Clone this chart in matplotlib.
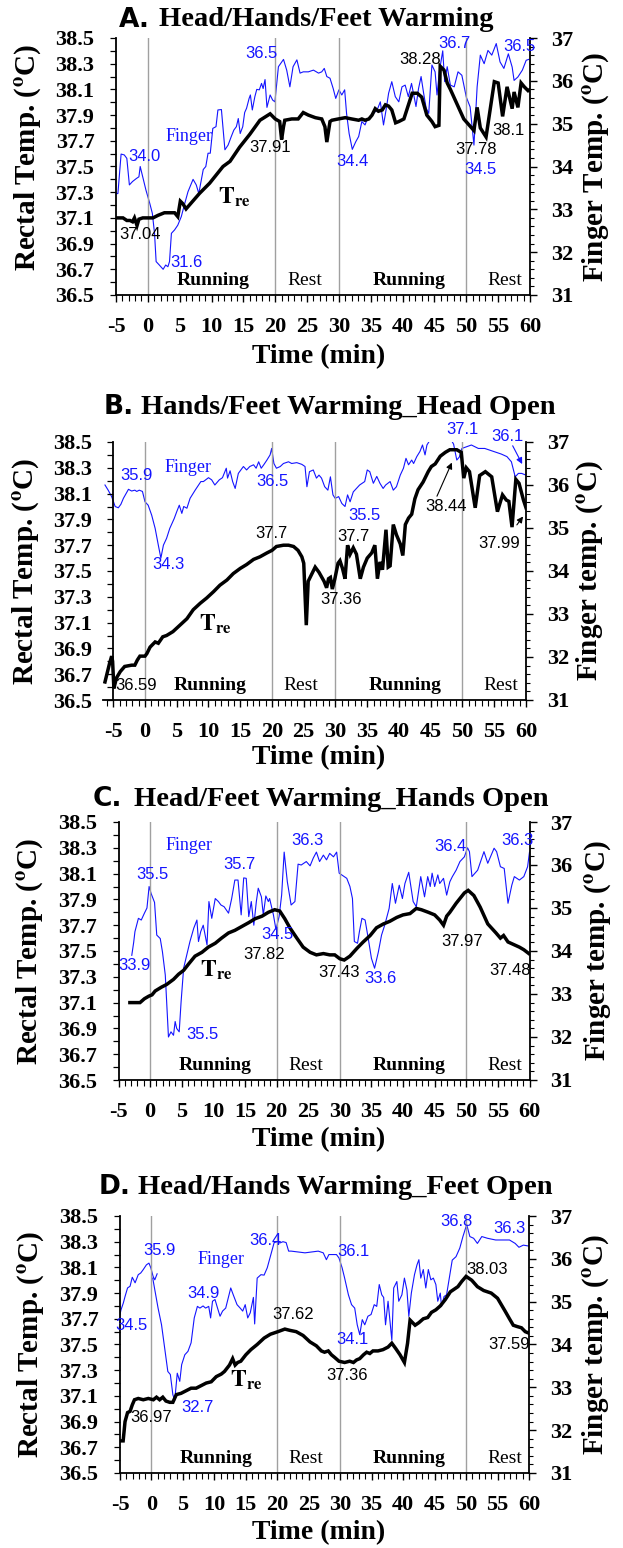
import numpy as np
import matplotlib
matplotlib.use('Agg')
import matplotlib.pyplot as plt
from matplotlib.ticker import MultipleLocator, FixedLocator, FormatStrFormatter

plt.rcParams['mathtext.fontset'] = 'stix'
plt.rcParams['axes.unicode_minus'] = False

# ---------------- panel A: head/hands/feet warming ----------------
A_tre_t = [-5.0, -3.9, -3.3, -2.8, -2.4, -2.1, -1.7, -1.4, -0.8, 0.0, 0.8, 1.6, 2.1, 2.6, 3.4, 4.2,
           4.7, 5.1, 5.5, 6.0, 8.1, 9.7, 11.8, 12.9, 14.4, 16.0, 17.6, 19.2, 20.0, 20.7, 21.0, 21.3,
           21.5, 22.6, 23.6, 24.4, 25.2, 26.3, 27.3, 27.8, 28.1, 28.6, 28.9, 29.9, 31.0, 32.0, 33.1,
           33.6, 34.1, 34.7, 35.2, 35.7, 36.2, 36.8, 37.3, 37.8, 38.3, 38.9, 39.4, 40.2, 41.5, 42.3,
           43.0, 43.8, 44.6, 45.1, 45.7, 45.9, 46.5, 47.0, 47.5, 49.6, 51.2, 51.7, 52.2, 53.1, 54.4,
           55.0, 55.7, 56.4, 57.2, 57.5, 58.1, 58.6, 59.1, 59.7, 60.0]
A_tre = [37.10, 37.10, 37.08, 37.08, 37.07, 37.10, 37.04, 37.09, 37.10, 37.10, 37.10, 37.12, 37.13,
         37.14, 37.14, 37.14, 37.11, 37.23, 37.21, 37.17, 37.29, 37.37, 37.50, 37.54, 37.65, 37.75,
         37.86, 37.91, 37.87, 37.85, 37.71, 37.81, 37.86, 37.87, 37.87, 37.92, 37.90, 37.88, 37.87,
         37.81, 37.69, 37.85, 37.86, 37.87, 37.88, 37.87, 37.86, 37.87, 37.86, 37.87, 37.90, 37.95,
         37.93, 37.94, 37.98, 37.97, 37.94, 37.84, 37.85, 37.87, 38.07, 38.07, 38.04, 37.90, 37.85,
         37.81, 37.82, 38.28, 38.25, 38.15, 38.10, 37.87, 37.78, 37.96, 37.80, 37.73, 38.16, 38.15,
         37.89, 38.12, 37.95, 38.08, 37.96, 38.15, 38.12, 38.09, 38.10]
A_fin_t = [-5.1, -4.7, -4.2, -3.7, -3.3, -2.9, -2.4, -1.8, -1.4, -1.2, -0.8, -0.3, 0.3, 0.7, 1.05,
           1.3, 1.8, 2.4, 2.8, 3.15, 3.4, 3.7, 4.2, 4.7, 5.25, 5.8, 6.3, 7.1, 7.6, 8.0, 8.7, 9.1, 9.45,
           9.8, 10.2, 10.7, 11.0, 11.55, 12.1, 12.6, 13.1, 13.5, 13.9, 14.2, 14.5, 14.9, 15.2, 15.5,
           15.9, 16.1, 16.4, 16.8, 17.1, 17.5, 17.85, 18.1, 18.4, 18.7, 19.2, 19.6, 19.95, 20.5, 21.3,
           21.8, 22.3, 22.8, 23.4, 23.9, 24.4, 25.2, 26.0, 26.8, 27.3, 27.7, 28.1, 28.6, 29.1, 29.5,
           30.0, 30.45, 30.9, 31.2, 31.6, 32.1, 32.65, 33.1, 33.6, 34.1, 34.4, 34.9, 35.4, 36.0, 36.5,
           37.0, 37.4, 37.8, 38.3, 38.85, 39.4, 39.9, 40.4, 40.9, 41.4, 41.7, 42.1, 42.5, 42.9, 43.3,
           43.7, 44.1, 44.6, 45.1, 45.4, 45.8, 46.3, 46.6, 47.0, 47.5, 48.1, 48.7, 49.3, 50.0, 50.6,
           51.2, 51.7, 52.2, 52.8, 53.4, 54.0, 54.7, 55.3, 55.9, 56.6, 57.2, 57.5, 58.1, 58.8, 59.4,
           59.8]
A_fin = [33.36, 33.37, 34.29, 34.27, 34.19, 33.57, 33.65, 33.72, 33.76, 34.0, 33.76, 33.45, 33.14,
         32.91, 32.44, 31.78, 31.70, 31.60, 31.70, 31.66, 31.78, 32.44, 32.52, 32.63, 32.83, 33.14,
         33.41, 33.70, 33.57, 33.37, 33.93, 34.00, 34.31, 34.31, 34.89, 34.93, 35.32, 35.33, 34.39,
         34.50, 34.70, 34.85, 34.93, 35.12, 34.77, 34.93, 35.26, 35.36, 35.59, 35.67, 35.32, 35.63,
         35.80, 35.79, 35.94, 35.82, 36.03, 35.38, 35.67, 35.55, 35.51, 36.33, 36.5, 36.25, 35.86,
         36.33, 36.49, 36.18, 36.21, 36.21, 36.25, 36.18, 36.21, 36.29, 36.10, 36.06, 35.82, 35.59,
         35.79, 35.67, 35.79, 35.24, 34.77, 34.4, 34.58, 34.70, 35.05, 34.97, 35.09, 35.12, 35.24,
         35.32, 35.51, 34.97, 35.32, 35.71, 35.98, 35.63, 35.51, 35.86, 35.90, 35.63, 35.94, 35.71,
         35.40, 35.82, 36.10, 35.71, 35.36, 35.24, 36.37, 36.21, 35.67, 36.25, 36.7, 35.98, 36.33,
         35.90, 35.86, 36.21, 36.13, 35.62, 35.39, 34.5, 35.86, 36.60, 36.40, 36.71, 36.60, 36.87,
         36.44, 36.29, 36.63, 36.32, 36.01, 36.09, 36.25, 36.48, 36.5]

# ---------------- panel B: hands/feet warming, head open ----------------
B_tre_t = [-6.3, -5.9, -5.6, -5.25, -5.1, -4.9, -4.5, -3.9, -3.2, -2.1, -1.6, -1.2, -0.8, 0.0, 0.3,
           0.8, 1.6, 2.1, 2.8, 3.4, 4.4, 5.5, 6.6, 7.6, 8.7, 9.7, 10.8, 11.8, 12.9, 13.9, 15.0, 16.0,
           17.1, 18.1, 19.2, 20.0, 20.7, 21.8, 22.6, 23.4, 24.1, 24.7, 25.0, 25.4, 25.7, 26.0, 26.8,
           27.4, 28.2, 28.6, 28.9, 29.2, 29.5, 29.9, 30.4, 30.7, 31.1, 31.5, 31.9, 32.3, 32.8, 33.3,
           33.9, 34.4, 35.0, 35.7, 36.2, 36.6, 37.0, 37.4, 37.95, 38.3, 38.6, 39.1, 39.6, 40.2, 40.6,
           41.0, 41.5, 42.0, 42.5, 43.0, 43.8, 44.6, 45.1, 45.7, 46.5, 47.3, 48.0, 49.1, 49.8, 50.2,
           50.6, 51.1, 52.0, 52.7, 53.6, 54.6, 55.5, 56.3, 56.9, 57.3, 57.8, 58.4, 58.9, 59.6, 60.0]
B_tre = [36.64, 36.72, 36.78, 36.84, 36.80, 36.59, 36.67, 36.72, 36.76, 36.77, 36.77, 36.81, 36.84,
         36.84, 36.86, 36.91, 36.95, 36.94, 36.99, 37.00, 37.03, 37.08, 37.13, 37.20, 37.25, 37.29,
         37.34, 37.39, 37.43, 37.48, 37.52, 37.55, 37.59, 37.61, 37.64, 37.66, 37.69, 37.70, 37.70,
         37.69, 37.66, 37.61, 37.56, 37.08, 37.42, 37.45, 37.53, 37.49, 37.42, 37.37, 37.44, 37.45,
         37.36, 37.44, 37.56, 37.58, 37.52, 37.44, 37.70, 37.63, 37.68, 37.63, 37.44, 37.53, 37.60,
         37.64, 37.70, 37.44, 37.57, 37.51, 37.82, 37.53, 37.54, 37.86, 37.78, 37.71, 37.62, 37.86,
         37.91, 37.94, 38.06, 38.13, 38.19, 38.27, 38.31, 38.33, 38.39, 38.42, 38.44, 38.44, 38.42,
         38.22, 38.30, 38.27, 37.99, 38.24, 38.27, 38.23, 37.96, 38.09, 38.05, 38.04, 37.84, 38.21,
         38.18, 38.05, 37.99]
B_fin_t = [-6.3, -5.8, -5.25, -4.7, -4.2, -3.8, -3.4, -2.6, -2.1, -1.6, -1.3, -0.9, -0.4, 0.0, 0.5,
           1.05, 1.6, 2.1, 2.5, 2.9, 3.4, 3.9, 4.6, 5.0, 5.4, 5.8, 6.1, 6.6, 7.1, 7.9, 8.8, 9.2, 10.0,
           10.5, 11.0, 11.7, 12.2, 12.8, 13.0, 13.4, 13.8, 14.2, 14.7, 15.5, 16.0, 16.5, 17.1, 17.5,
           17.9, 18.3, 18.7, 19.2, 19.7, 19.95, 20.3, 20.7, 21.3, 21.8, 22.6, 23.1, 23.9, 24.7, 25.2,
           25.5, 25.9, 26.5, 27.0, 27.4, 27.8, 28.3, 28.8, 29.2, 29.6, 29.95, 30.5, 31.0, 31.5, 31.9,
           32.3, 32.8, 33.3, 33.8, 34.6, 35.0, 35.4, 35.96, 36.5, 37.0, 37.5, 37.9, 38.6, 39.1, 39.6,
           40.2, 40.7, 41.1, 41.5, 42.0, 42.3, 42.8, 43.3, 43.7, 44.1, 44.4, 44.9, 45.7, 46.5, 47.3,
           48.0, 48.6, 49.1, 49.5, 49.9, 51.4, 52.5, 53.5, 54.9, 56.1, 57.0, 57.7, 58.3, 58.8, 59.3,
           60.0]
B_fin = [36.0, 35.88, 35.73, 35.50, 35.47, 35.55, 35.69, 35.9, 35.86, 35.88, 35.85, 35.88, 35.85,
         35.61, 35.53, 35.30, 34.99, 34.60, 34.3, 34.60, 34.76, 34.99, 35.22, 35.38, 35.53, 35.34,
         35.50, 35.46, 35.69, 35.88, 36.08, 36.08, 36.17, 36.12, 36.00, 36.12, 36.17, 36.39, 36.16,
         36.33, 36.08, 35.92, 36.27, 36.43, 36.35, 36.43, 36.47, 36.39, 36.54, 36.39, 36.47, 36.58,
         36.70, 36.85, 36.50, 36.39, 36.43, 36.50, 36.54, 36.50, 36.52, 36.48, 36.43, 35.96, 36.31,
         36.35, 36.16, 36.23, 36.16, 35.96, 35.88, 36.19, 35.77, 35.69, 35.73, 35.57, 35.5, 35.77,
         35.61, 35.84, 35.92, 36.00, 36.08, 36.35, 36.31, 36.04, 36.20, 36.04, 35.92, 36.00, 36.08,
         35.88, 35.96, 36.23, 36.39, 36.62, 36.47, 36.58, 36.50, 36.66, 36.78, 36.93, 36.70, 36.93,
         37.05, 37.1, 37.08, 37.08, 37.1, 36.95, 36.58, 36.65, 36.85, 36.93, 36.85, 36.85, 36.78,
         36.72, 36.66, 36.54, 36.19, 36.27, 36.27, 36.23]

# ---------------- panel C: head/feet warming, hands open ----------------
C_tre_t = [-3.2, -1.6, -0.9, -0.2, 0.3, 0.8, 1.8, 2.6, 3.7, 4.5, 5.3, 6.1, 7.1, 8.2, 9.2, 10.3, 11.3,
           12.4, 13.4, 14.5, 15.6, 16.6, 17.7, 18.7, 19.7, 20.5, 21.3, 22.1, 23.2, 24.2, 25.3, 26.3,
           27.4, 28.4, 29.2, 30.0, 30.7, 31.6, 32.7, 33.7, 34.8, 35.8, 36.9, 37.9, 39.0, 40.0, 41.1,
           42.1, 42.9, 44.0, 45.0, 45.8, 46.4, 46.9, 47.4, 48.4, 49.7, 50.3, 51.2, 52.2, 53.4, 54.7,
           55.4, 55.9, 56.6, 57.5, 58.4, 59.1, 59.9]
C_tre = [37.10, 37.10, 37.13, 37.15, 37.16, 37.19, 37.22, 37.24, 37.28, 37.32, 37.35, 37.40, 37.46,
         37.49, 37.53, 37.56, 37.60, 37.64, 37.66, 37.69, 37.72, 37.75, 37.77, 37.80, 37.82, 37.81,
         37.75, 37.68, 37.60, 37.53, 37.49, 37.47, 37.48, 37.47, 37.47, 37.44, 37.43, 37.46, 37.52,
         37.57, 37.62, 37.68, 37.71, 37.73, 37.76, 37.78, 37.79, 37.83, 37.82, 37.80, 37.78, 37.74,
         37.70, 37.77, 37.80, 37.87, 37.95, 37.97, 37.93, 37.84, 37.71, 37.64, 37.60, 37.62, 37.57,
         37.55, 37.53, 37.51, 37.48]
C_fin_t = [-2.9, -2.6, -2.4, -1.85, -1.4, -0.9, -0.5, -0.16, 0.15, 0.7, 1.05, 1.6, 1.95, 2.4, 2.9,
           3.3, 3.7, 3.96, 4.2, 4.6, 4.9, 5.3, 5.8, 6.3, 6.9, 7.4, 7.65, 8.0, 8.4, 9.0, 9.3, 9.75, 10.3,
           10.8, 11.2, 11.7, 12.4, 12.9, 13.4, 13.9, 14.4, 14.8, 15.2, 15.6, 16.0, 16.4, 16.8, 17.1,
           17.6, 17.9, 18.3, 18.7, 18.9, 19.5, 19.9, 20.4, 20.8, 21.2, 21.7, 22.3, 22.9, 23.4, 23.9,
           24.7, 25.3, 25.8, 26.3, 26.8, 27.4, 27.9, 28.4, 29.0, 29.5, 29.9, 30.3, 31.1, 31.6, 32.0,
           32.3, 32.8, 33.1, 33.5, 34.0, 34.5, 35.0, 35.5, 36.1, 36.6, 37.1, 37.8, 38.3, 38.8, 39.4,
           39.9, 40.3, 40.9, 41.6, 42.1, 42.8, 43.4, 43.9, 44.3, 44.6, 45.0, 45.5, 45.8, 46.4, 46.9,
           47.4, 47.8, 48.4, 49.0, 49.7, 50.2, 50.5, 50.9, 51.8, 52.8, 53.4, 54.4, 54.8, 55.4, 56.0,
           56.6, 57.2, 57.6, 58.4, 59.1, 59.7, 60.0]
C_fin = [33.9, 34.20, 34.45, 34.76, 34.72, 34.88, 35.00, 35.5, 35.34, 35.13, 34.37, 34.29, 33.98,
         33.44, 32.00, 32.12, 32.04, 32.36, 32.20, 32.12, 32.82, 33.60, 33.91, 34.22, 34.53, 34.72,
         34.22, 34.45, 34.60, 34.14, 35.15, 34.76, 35.22, 35.15, 35.07, 35.03, 34.88, 35.22, 35.65,
         35.65, 34.84, 35.7, 35.69, 34.80, 35.15, 34.60, 35.15, 35.46, 35.26, 34.84, 35.28, 35.15,
         35.22, 34.84, 34.5, 34.80, 35.30, 36.3, 35.61, 35.07, 35.15, 36.02, 36.00, 36.08, 35.98,
         36.16, 36.3, 36.08, 36.23, 36.12, 36.27, 36.19, 36.3, 35.81, 35.77, 35.69, 35.50, 35.22,
         34.22, 34.18, 34.45, 34.76, 34.72, 34.29, 33.83, 33.6, 33.98, 34.37, 34.60, 34.99, 35.57,
         35.11, 35.53, 35.22, 35.57, 35.83, 35.15, 35.03, 35.73, 35.26, 35.73, 35.50, 35.81, 35.50,
         35.77, 35.57, 35.69, 35.30, 35.61, 35.73, 35.88, 36.08, 36.19, 36.4, 36.31, 35.73, 35.88,
         36.31, 36.04, 36.39, 36.31, 35.96, 35.92, 35.11, 35.53, 35.73, 35.65, 35.73, 35.96, 36.3]

# ---------------- panel D: head/hands warming, feet open ----------------
D_tre_t = [-5.0, -4.5, -4.2, -3.8, -3.4, -3.05, -2.7, -2.1, -1.3, -0.5, 0.3, 0.8, 1.3, 1.8, 2.3, 2.9,
           3.4, 3.95, 4.7, 5.5, 6.3, 7.1, 7.9, 8.7, 9.5, 10.3, 11.1, 11.6, 12.4, 12.9, 13.3, 13.7,
           14.2, 15.0, 15.8, 16.8, 17.9, 18.9, 20.1, 21.2, 22.0, 23.0, 24.1, 25.2, 26.2, 27.0, 27.5,
           28.1, 28.6, 29.1, 29.8, 30.7, 31.5, 32.1, 32.6, 33.1, 33.7, 34.2, 34.7, 35.2, 36.0, 36.8,
           37.6, 38.2, 38.8, 39.5, 40.2, 40.7, 41.1, 41.9, 42.5, 43.2, 43.9, 44.5, 45.2, 45.9, 46.7,
           47.5, 48.7, 49.3, 50.0, 50.9, 51.8, 52.8, 54.0, 55.0, 55.6, 56.2, 56.9, 57.5, 58.1, 58.8,
           59.4, 59.9]
D_tre = [36.75, 36.75, 36.90, 36.97, 36.98, 37.03, 37.07, 37.08, 37.07, 37.08, 37.07, 37.09, 37.07,
         37.09, 37.06, 37.05, 37.05, 37.11, 37.12, 37.14, 37.16, 37.16, 37.18, 37.20, 37.21, 37.25,
         37.27, 37.29, 37.34, 37.39, 37.34, 37.36, 37.37, 37.42, 37.46, 37.50, 37.55, 37.58, 37.60,
         37.62, 37.61, 37.60, 37.57, 37.52, 37.49, 37.45, 37.44, 37.45, 37.42, 37.40, 37.37, 37.36,
         37.37, 37.36, 37.38, 37.39, 37.42, 37.44, 37.43, 37.45, 37.45, 37.46, 37.48, 37.51, 37.47,
         37.42, 37.36, 37.51, 37.69, 37.65, 37.67, 37.70, 37.71, 37.75, 37.77, 37.80, 37.85, 37.91,
         37.95, 37.99, 38.03, 38.00, 37.95, 37.92, 37.90, 37.86, 37.81, 37.76, 37.70, 37.65, 37.64,
         37.63, 37.60, 37.59]
# the finger trace has a gap just after 0 min (nan)
D_fin_t = [-5.3, -4.84, -4.47, -4.2, -3.8, -3.4, -3.05, -2.6, -2.1, -1.7, -1.3, -0.8, -0.4, -0.1,
           0.26, 0.53, 0.9, np.nan, 0.2, 1.05, 1.6, 2.1, 2.6, 3.0, 3.4, 3.7, 4.1, 4.5, 4.8, 5.3, 5.8,
           6.3, 6.8, 7.3, 7.7, 8.2, 8.6, 9.1, 9.4, 9.7, 10.1, 10.5, 10.9, 11.3, 11.8, 12.2, 12.6, 13.0,
           13.6, 14.1, 14.5, 14.9, 15.3, 15.7, 16.2, 16.4, 16.8, 17.4, 17.9, 18.4, 18.9, 19.5, 20.0,
           20.4, 20.9, 21.4, 21.8, 22.2, 23.3, 24.4, 25.4, 26.5, 27.3, 27.8, 28.2, 28.9, 29.4, 29.8,
           30.3, 30.7, 31.3, 31.8, 32.3, 32.7, 33.1, 33.5, 33.9, 34.4, 34.9, 35.4, 35.8, 36.2, 36.6,
           36.9, 37.2, 37.6, 38.2, 38.5, 39.0, 39.3, 39.8, 40.2, 40.6, 40.9, 41.3, 41.8, 42.2, 42.5,
           42.8, 43.2, 43.6, 44.0, 44.4, 44.8, 45.2, 45.5, 45.9, 46.1, 46.5, 46.9, 47.5, 47.8, 48.4,
           49.0, 49.5, 50.1, 50.6, 51.2, 51.8, 52.5, 53.4, 54.7, 55.9, 56.9, 57.8, 58.4, 59.1, 59.9]
D_fin = [34.5, 34.81, 34.97, 35.12, 35.32, 35.36, 35.57, 35.44, 35.63, 35.67, 35.75, 35.86, 35.9,
         35.79, 35.59, 35.51, 35.65, np.nan, 35.55, 34.85, 34.46, 33.92, 33.37, 33.30, 32.83, 32.7,
         33.33, 33.14, 33.53, 33.76, 33.84, 34.04, 34.62, 34.89, 34.85, 34.9, 34.85, 34.89, 34.62,
         35.01, 35.05, 34.85, 34.66, 34.78, 34.85, 35.09, 35.32, 35.16, 34.93, 34.85, 34.78, 34.93,
         34.62, 34.74, 35.10, 34.48, 35.55, 35.63, 35.62, 35.79, 36.06, 36.38, 36.4, 36.37, 36.40,
         36.38, 36.18, 36.18, 36.16, 36.14, 36.16, 36.18, 36.14, 35.98, 36.10, 36.1, 36.1, 36.02,
         35.79, 35.55, 35.16, 34.93, 34.85, 34.46, 34.23, 34.58, 34.46, 34.66, 34.70, 34.93, 34.89,
         35.40, 35.16, 35.10, 34.46, 35.01, 34.1, 35.32, 35.47, 35.01, 35.16, 35.55, 35.27, 34.66,
         35.20, 35.63, 35.86, 35.98, 35.55, 35.75, 35.32, 35.75, 35.51, 35.55, 35.40, 35.01, 35.20,
         34.89, 35.12, 35.16, 35.71, 35.97, 36.05, 36.25, 36.52, 36.8, 36.52, 36.48, 36.36, 36.52,
         36.48, 36.44, 36.44, 36.44, 36.36, 36.27, 36.32, 36.3]

BLUE = '#1414ff'
GREY = '#a0a0a0'
SERIF = 'Liberation Serif'
SANS = 'Liberation Sans'
W, H = 623.0, 1548.0

fig = plt.figure(figsize=(6.23, 15.48), dpi=100)


def fx(px):
    return px / W


def fy(py):
    return 1 - py / H


def draw_panel(box, xlim, tre_t, tre, fin_t, fin, letter, title, title_pos,
               right_label, notes, arrows, ylab_x, ylab_y, rlab_x, xlab_y, phase_y=36.61):
    left, top, right, bottom = box
    ax = fig.add_axes([fx(left), fy(bottom), (right - left) / W, (bottom - top) / H])
    ax2 = ax.twinx()
    ax.set_zorder(ax2.get_zorder() + 1)
    ax.patch.set_visible(False)

    for x in (0, 20, 30, 50):
        ax.axvline(x, color=GREY, lw=1.0, zorder=0)

    ax2.plot(fin_t, fin, color=BLUE, lw=0.8)
    ax.plot(tre_t, tre, color='black', lw=2.5, solid_joinstyle='miter')

    ax.set_xlim(*xlim)
    ax.set_ylim(36.5, 38.5)
    ax2.set_ylim(31, 37)
    if xlim[0] < -5:
        ax.spines['left'].set_position(('data', -5))

    for s in ('top', 'right'):
        ax.spines[s].set_visible(False)
    for s in ('top', 'left', 'bottom'):
        ax2.spines[s].set_visible(False)
    for s in ('left', 'bottom'):
        ax.spines[s].set_linewidth(1.3)
    ax2.spines['right'].set_linewidth(1.3)

    ax.xaxis.set_major_locator(MultipleLocator(5))
    ax.xaxis.set_minor_locator(MultipleLocator(1))
    ax.yaxis.set_major_locator(FixedLocator(np.arange(36.5, 38.51, 0.2)))
    ax.yaxis.set_minor_locator(MultipleLocator(0.1))
    ax.yaxis.set_major_formatter(FormatStrFormatter('%.1f'))
    ax2.yaxis.set_major_locator(MultipleLocator(1))
    ax2.yaxis.set_minor_locator(MultipleLocator(0.2))

    ax.tick_params(axis='x', which='major', length=5, width=1, pad=11)
    ax.tick_params(axis='x', which='minor', length=4.5, width=0.8)
    ax.tick_params(axis='y', which='both', length=4.5, width=0.9, pad=11)
    ax2.tick_params(axis='y', which='major', length=5, width=1, pad=10)
    ax2.tick_params(axis='y', which='minor', length=3, width=0.8)
    for lab in ax.get_xticklabels() + ax.get_yticklabels() + ax2.get_yticklabels():
        lab.set_fontfamily(SERIF)
        lab.set_fontweight('bold')
        lab.set_fontsize(16)

    # phase names along the bottom
    for name, x in zip(['Running', 'Rest', 'Running', 'Rest'], [10.3, 24.6, 41.0, 56.1]):
        ax.text(x, phase_y, name, family=SERIF, fontsize=14, ha='center', va='center',
                fontweight='bold' if name == 'Running' else 'normal')

    for txt, x, y, kind in notes:
        if kind == 'finger':
            ax.text(x, y, txt, color=BLUE, family=SERIF, fontsize=13, ha='center', va='center')
        elif kind == 'tre':
            ax.text(x, y, r'$\mathbf{T_{re}}$', fontsize=17, ha='center', va='center')
        else:
            ax.text(x, y, txt, color=BLUE if kind == 'b' else 'black', family=SANS,
                    fontsize=12, ha='center', va='center')

    for (x0, y0), (x1, y1), col in arrows:
        ax.annotate('', xy=(x1, y1), xytext=(x0, y0),
                    arrowprops=dict(arrowstyle='-|>', color=col, lw=0.8, mutation_scale=9))

    fig.text(fx(title_pos[0]), fy(title_pos[2]), letter, family='DejaVu Sans',
             fontweight='heavy', fontsize=19, ha='left', va='center')
    fig.text(fx(title_pos[1]), fy(title_pos[2]), title, family=SERIF, fontweight='bold',
             fontsize=20.5, ha='left', va='center')

    fig.text(fx(ylab_x), fy(ylab_y), r'Rectal Temp. ($^{\mathbf{o}}$C)', family=SERIF,
             fontweight='bold', fontsize=21, rotation=90, ha='center', va='center')
    fig.text(fx(rlab_x), fy((top + bottom) / 2), right_label + r' ($^{\mathbf{o}}$C)',
             family=SERIF, fontweight='bold', fontsize=21, rotation=90, ha='center', va='center')
    fig.text(fx(319), fy(xlab_y), 'Time (min)', family=SERIF, fontweight='bold', fontsize=20,
             ha='center', va='center')
    return ax


draw_panel((116, 38, 530, 295), (-5, 60), A_tre_t, A_tre, A_fin_t, A_fin,
           'A.', 'Head/Hands/Feet Warming', (119, 159, 20), 'Finger Temp.',
           [('34.0', -0.6, 37.58, 'b'), ('37.04', -1.2, 36.97, 'k'), ('31.6', 6.0, 36.75, 'b'),
            ('Finger', 6.4, 37.73, 'finger'), ('', 13.5, 37.26, 'tre'), ('36.5', 17.9, 38.38, 'b'),
            ('37.91', 19.2, 37.65, 'k'), ('34.4', 32.2, 37.54, 'b'), ('38.28', 42.7, 38.33, 'k'),
            ('36.7', 48.1, 38.46, 'b'), ('37.78', 51.5, 37.63, 'k'), ('34.5', 52.2, 37.48, 'b'),
            ('38.1', 56.6, 37.78, 'k'), ('36.5', 58.4, 38.43, 'b')],
           [((58.9, 37.87), (60.1, 38.06), 'black')],
           28, 157, 596, 357)

draw_panel((103.4, 442, 526, 700), (-6.55, 60), B_tre_t, B_tre, B_fin_t, B_fin,
           'B.', 'Hands/Feet Warming_Head Open', (104, 141, 407), 'Finger temp.',
           [('35.9', -1.4, 38.24, 'b'), ('Finger', 6.7, 38.30, 'finger'), ('34.3', 3.65, 37.55, 'b'),
            ('36.5', 20.1, 38.19, 'b'), ('37.7', 19.95, 37.79, 'k'), ('36.59', -1.4, 36.61, 'k'),
            ('', 11.0, 37.09, 'tre'), ('37.36', 30.9, 37.28, 'k'), ('35.5', 34.5, 37.93, 'b'),
            ('37.7', 32.9, 37.77, 'k'), ('38.44', 47.35, 38.0, 'k'), ('37.1', 50.0, 38.6, 'b'),
            ('36.1', 57.1, 38.54, 'b'), ('37.99', 55.8, 37.71, 'k')],
           [((45.8, 38.06), (48.5, 38.36), 'black'), ((57.7, 38.49), (59.6, 38.31), BLUE),
            ((58.3, 37.84), (59.8, 37.94), 'black')],
           26, 571, 590, 758)

draw_panel((118.5, 822, 529.5, 1080), (-5, 60), C_tre_t, C_tre, C_fin_t, C_fin,
           'C.', 'Head/Feet Warming_Hands Open', (93, 134, 799), 'Finger temp.',
           [('Finger', 6.1, 38.32, 'finger'), ('35.5', 0.4, 38.09, 'b'), ('33.9', -2.4, 37.39, 'b'),
            ('35.5', 8.3, 36.85, 'b'), ('', 10.5, 37.35, 'tre'), ('35.7', 14.2, 38.17, 'b'),
            ('34.5', 20.2, 37.63, 'b'), ('37.82', 18.0, 37.47, 'k'), ('36.3', 24.9, 38.36, 'b'),
            ('37.43', 29.9, 37.33, 'k'), ('33.6', 36.4, 37.29, 'b'), ('36.4', 47.5, 38.31, 'b'),
            ('37.97', 49.4, 37.57, 'k'), ('36.3', 58.1, 38.36, 'b'), ('37.48', 56.9, 37.35, 'k')],
           [], 30, 951, 598, 1140)

draw_panel((120, 1216, 529, 1473), (-5, 60), D_tre_t, D_tre, D_fin_t, D_fin,
           'D.', 'Head/Hands Warming_Feet Open', (99, 138, 1187), 'Finger temp.',
           [('34.5', -3.2, 37.65, 'b'), ('35.9', 1.3, 38.23, 'b'), ('Finger', 11.0, 38.16, 'finger'),
            ('36.97', 0.0, 36.93, 'k'), ('32.7', 7.25, 37.01, 'b'), ('34.9', 8.3, 37.90, 'b'),
            ('', 15.1, 37.22, 'tre'), ('36.4', 18.1, 38.31, 'b'), ('37.62', 22.5, 37.73, 'k'),
            ('36.1', 32.1, 38.22, 'b'), ('34.1', 31.9, 37.54, 'b'), ('37.36', 31.1, 37.26, 'k'),
            ('36.8', 48.4, 38.46, 'b'), ('38.03', 53.4, 38.08, 'k'), ('36.3', 56.9, 38.40, 'b'),
            ('37.59', 56.9, 37.50, 'k')],
           [], 31, 1344, 596, 1533)

fig.savefig('out.png', dpi=100)
